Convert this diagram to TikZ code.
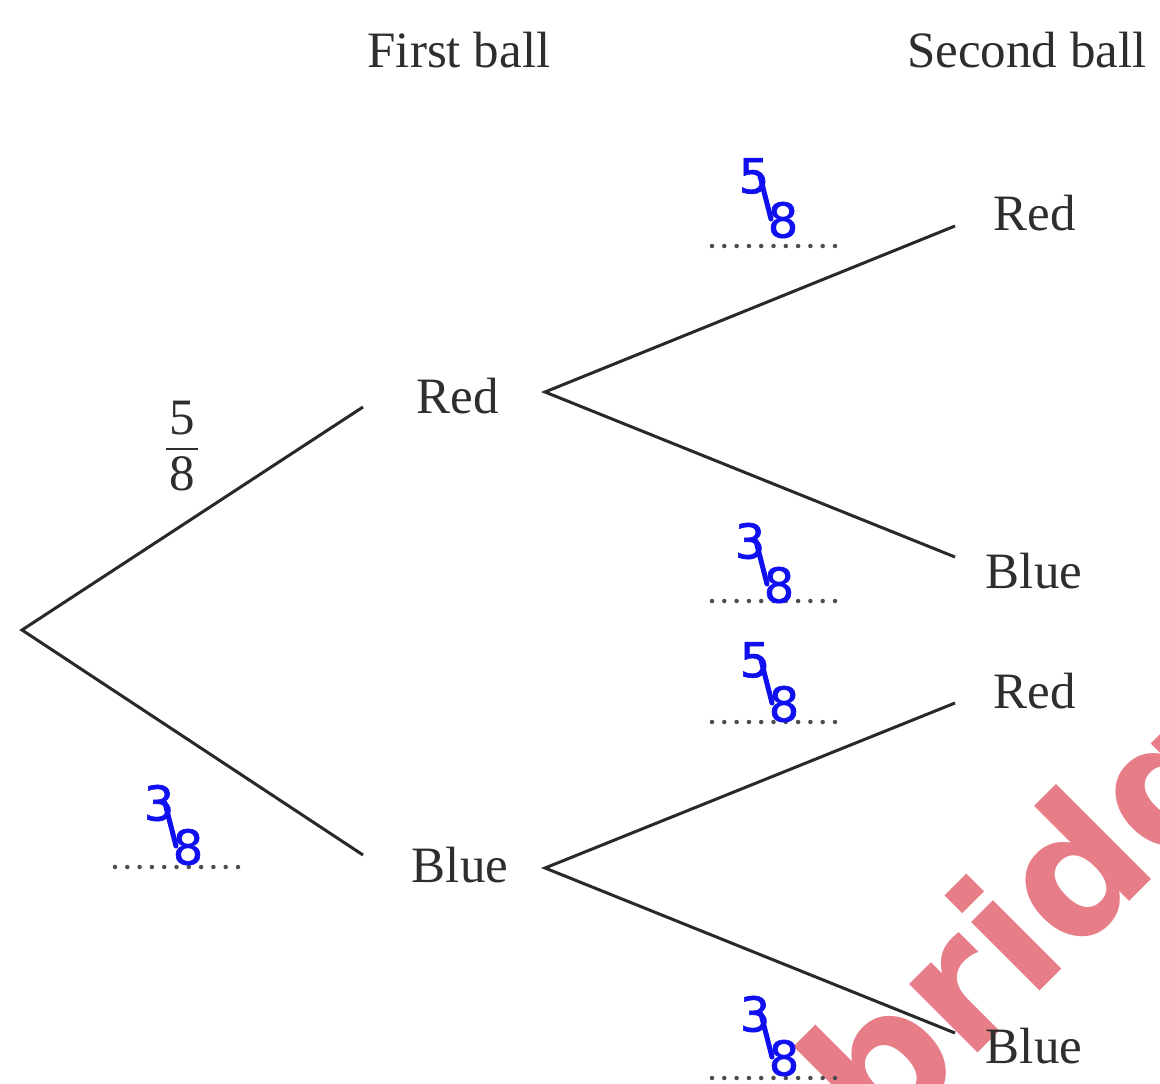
\documentclass[tikz,border=0pt]{standalone}
\usepackage{fontspec}
\setmainfont{Liberation Serif}
\newfontfamily\digfont{DejaVu Sans}[FakeBold=1.2]
\newfontfamily\wmfont{DejaVu Sans}
\usetikzlibrary{calc}
\definecolor{ink}{HTML}{2E2E2E}
\definecolor{penblue}{RGB}{15,15,240}
\definecolor{wmred}{RGB}{220,70,85}
\tikzset{
  lbl/.style={inner sep=0pt, text=ink, font=\fontsize{51}{60}\selectfont, anchor=base},
  branch/.style={draw=ink!90!black, line width=3pt},
  dotline/.style={draw=ink!85, line width=4.5pt, line cap=round, dash pattern=on 0pt off 12.3pt},
  bdig/.style={inner sep=0pt, text=penblue, font=\digfont\fontsize{48}{56}\selectfont},
  bslash/.style={draw=penblue, line width=5pt, line cap=round},
  pics/bfrac/.style 2 args={code={
    \node[bdig] (-n) at (-16,-22) {#1};
    \draw[bslash] (-10,-22) -- (1,21);
    \node[bdig] (-d) at (13,22) {#2};
  }}
}
\begin{document}
\begin{tikzpicture}[x=1pt,y=-1pt]
\useasboundingbox (0,0) rectangle (1160,1084);
\clip (0,0) rectangle (1160,1084);
\fill[white] (0,0) rectangle (1160,1084);

% watermark (behind the drawing)
\node[inner sep=0pt, anchor=base west, rotate=45, text=wmred, text opacity=0.7,
      font=\wmfont\bfseries\fontsize{177}{180}\selectfont] (wm) at (878,1153) {bridg};

% headings
\node[lbl] (h1) at (459,67) {First ball};
\node[lbl] (h2) at (1027,67) {Second ball};

% first-ball outcomes
\node[lbl] (r1) at (458,413) {Red};
\node[lbl] (b1) at (460,882) {Blue};

% second-ball outcomes
\node[lbl] (rr) at (1035,230) {Red};
\node[lbl] (rb) at (1034,588) {Blue};
\node[lbl] (br) at (1035,708) {Red};
\node[lbl] (bb) at (1034,1063) {Blue};

% branch points
\coordinate (root) at (22,630);
\coordinate (r1in) at (363,407);
\coordinate (b1in) at (363,855);
\coordinate (r1out) at (545,392);
\coordinate (b1out) at (545,868);
\coordinate (rrin) at (955,226);
\coordinate (rbin) at (955,557);
\coordinate (brin) at (955,703);
\coordinate (bbin) at (955,1033);

\draw[branch] (r1in) -- (root) -- (b1in);
\draw[branch] (rrin) -- (r1out) -- (rbin);
\draw[branch] (brin) -- (b1out) -- (bbin);

% printed fraction 5/8
\node[inner sep=0pt, text=ink, font=\fontsize{51}{60}\selectfont] (p5) at (182.5,418.5) {5};
\node[inner sep=0pt, text=ink, font=\fontsize{51}{60}\selectfont] (p8) at (182,473.5) {8};
\coordinate (barL) at (166,449);
\coordinate (barR) at (198,449);
\draw[draw=ink, line width=2.5pt] (barL) -- (barR);

% dotted answer lines
\coordinate (d1a) at (712,246);  \coordinate (d1b) at (836,246);
\coordinate (d2a) at (712,601);  \coordinate (d2b) at (836,601);
\coordinate (d3a) at (712,722);  \coordinate (d3b) at (836,722);
\coordinate (d4a) at (115,867);  \coordinate (d4b) at (239,867);
\coordinate (d5a) at (712,1078); \coordinate (d5b) at (836,1078);
\draw[dotline] (d1a) -- (d1b);
\draw[dotline] (d2a) -- (d2b);
\draw[dotline] (d3a) -- (d3b);
\draw[dotline] (d4a) -- (d4b);
\draw[dotline] (d5a) -- (d5b);

% handwritten answers
\pic (f1) at (770,198) {bfrac={5}{8}};
\pic (f2) at (766,563) {bfrac={3}{8}};
\pic (f3) at (771,682) {bfrac={5}{8}};
\pic (f4) at (175,825) {bfrac={3}{8}};
\pic (f5) at (771,1036) {bfrac={3}{8}};
\end{tikzpicture}
\end{document}
